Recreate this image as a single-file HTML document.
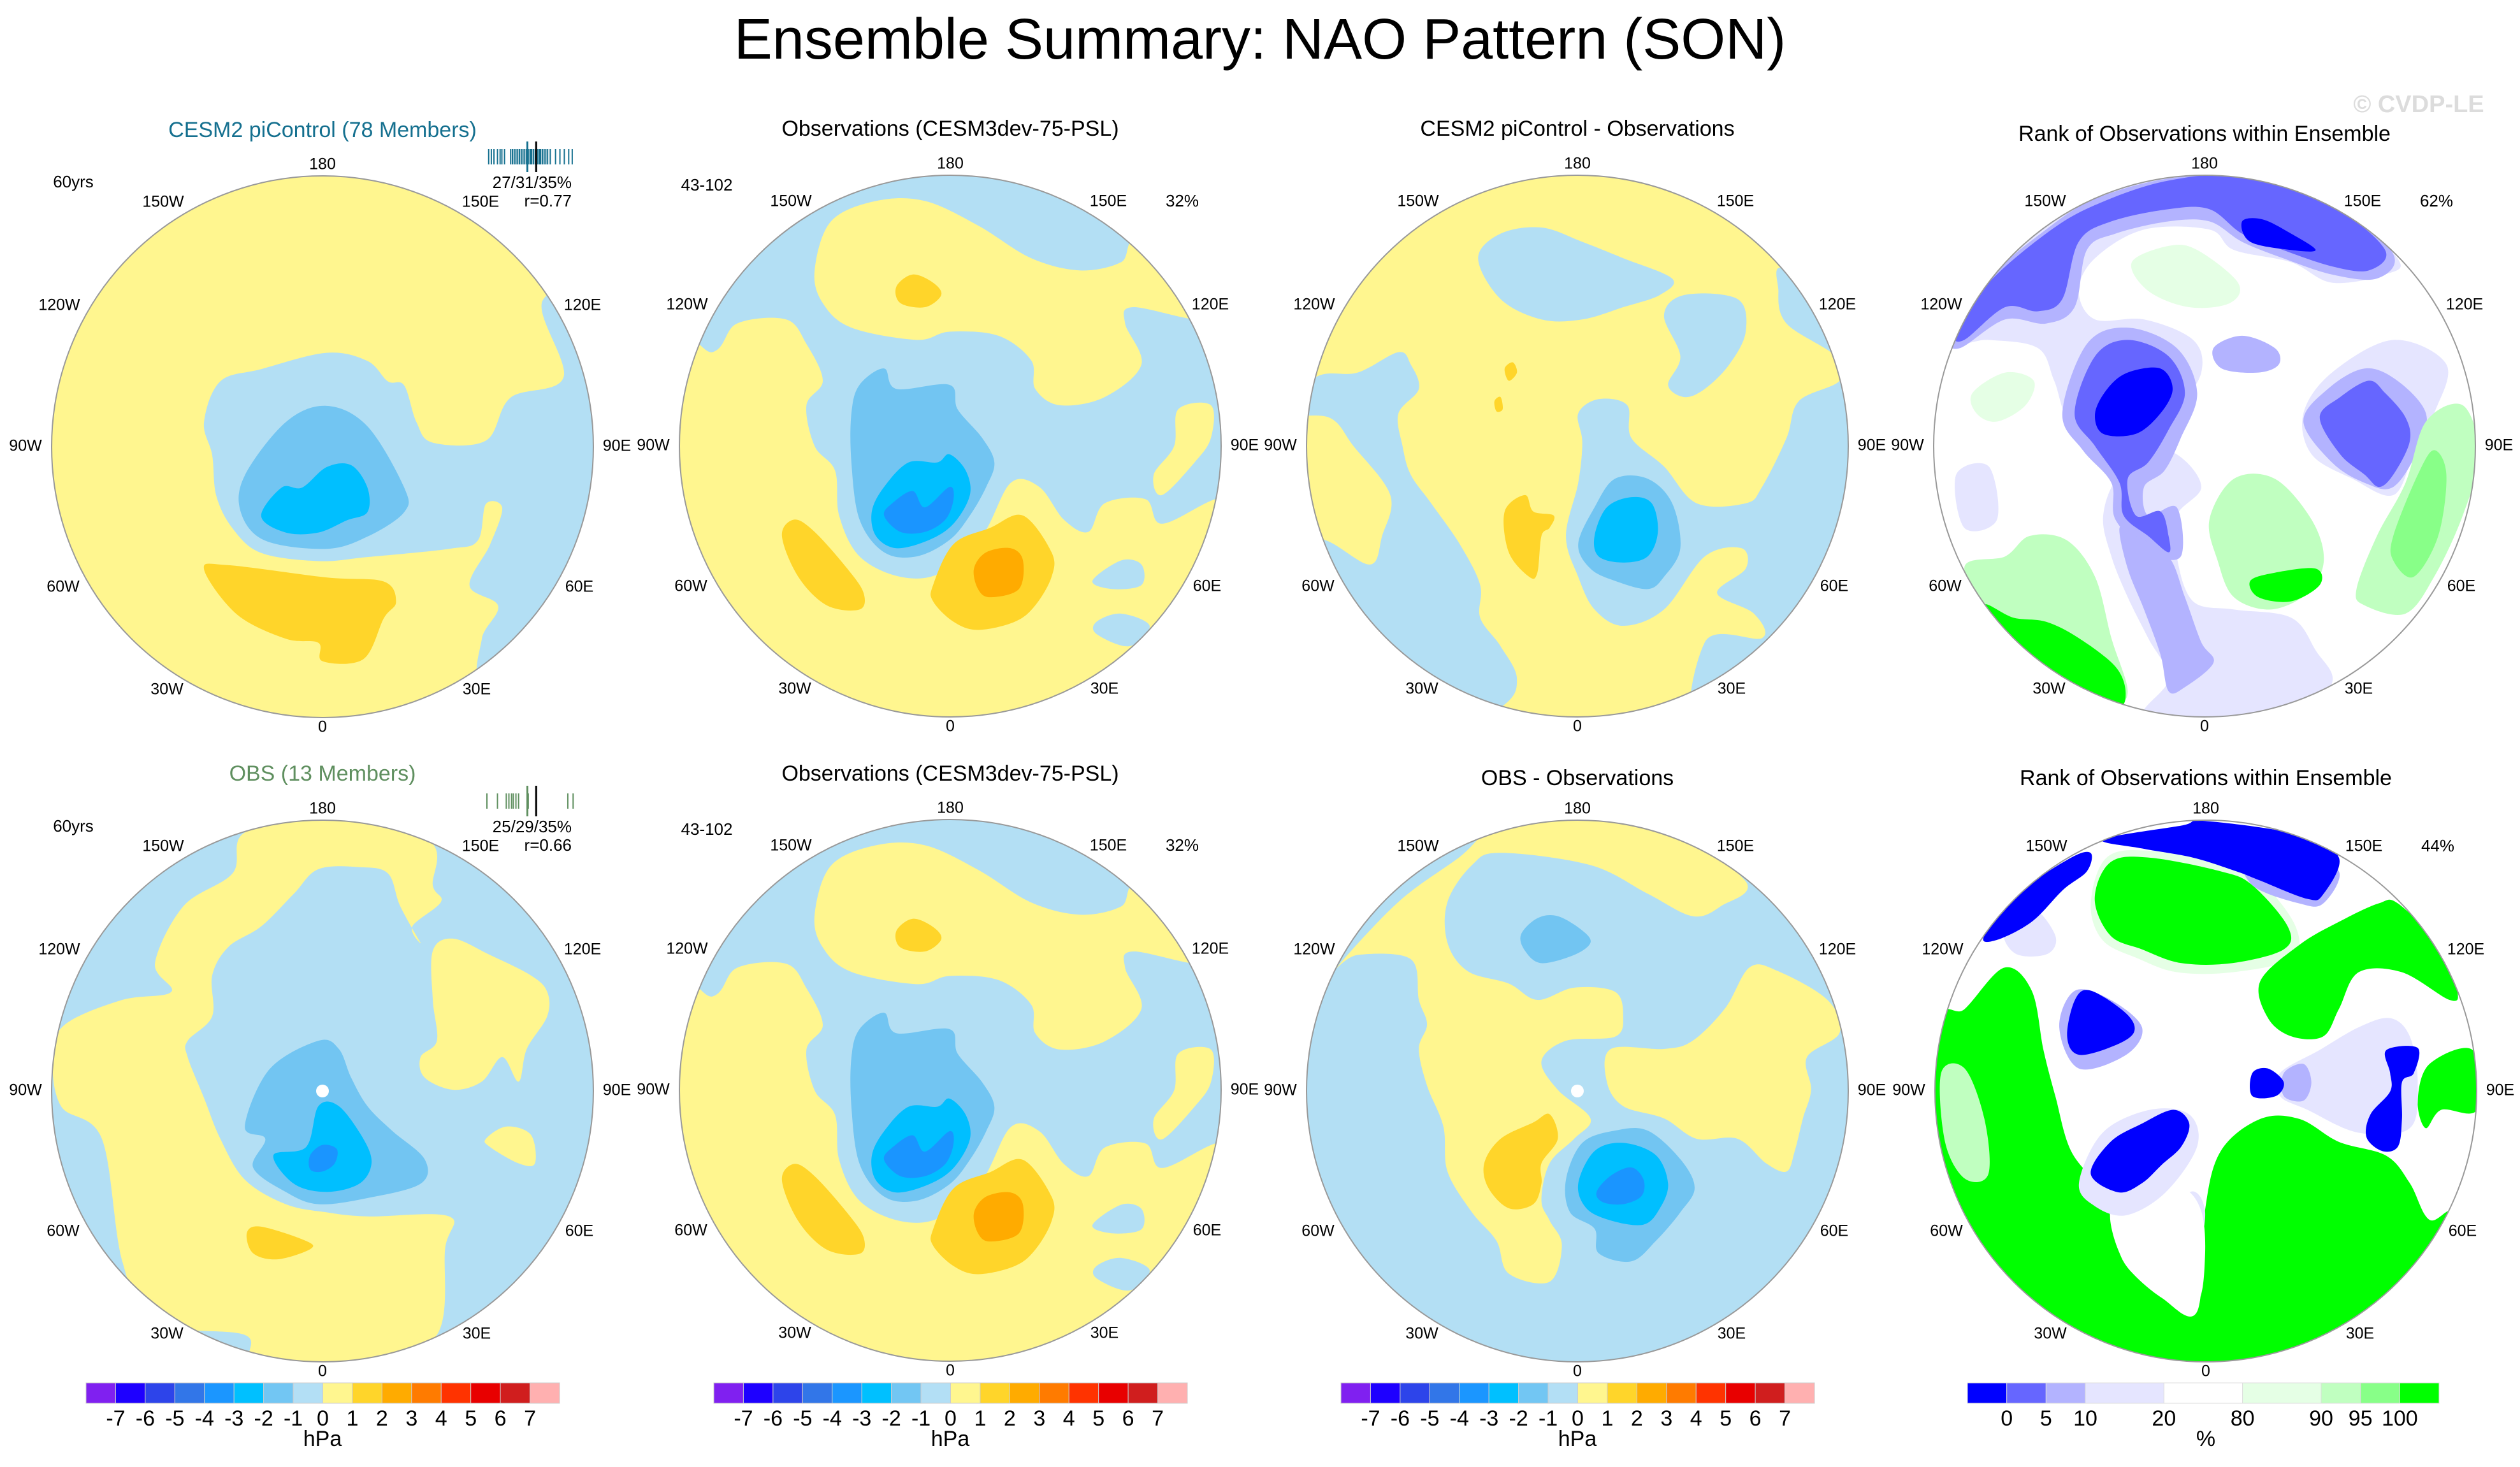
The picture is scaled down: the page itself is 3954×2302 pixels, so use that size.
<!DOCTYPE html>
<html><head><meta charset="utf-8"><title>Ensemble Summary: NAO Pattern (SON)</title>
<style>html,body{margin:0;padding:0;background:#fff;}svg{display:block;font-family:"Liberation Sans",Arial,sans-serif;}</style>
</head><body>
<svg id="fig" xmlns="http://www.w3.org/2000/svg" width="3954" height="2302" viewBox="0 0 3954 2302">
<rect width="3954" height="2302" fill="#fff"/>
<text x="1977" y="68" font-size="90" text-anchor="middle" dominant-baseline="middle" fill="#000">Ensemble Summary: NAO Pattern (SON)</text>
<text x="3795" y="166" font-size="38" font-weight="bold" text-anchor="middle" dominant-baseline="middle" fill="#dcdcdc">© CVDP-LE</text>
<g id="panels"></g>
</svg>
<script>
const pslLevels = [-7,-6,-5,-4,-3,-2,-1,0,1,2,3,4,5,6,7];
const pslColors = ['#8020f0','#1e00ff','#2d44ea','#3276e8','#1b96ff','#00c0ff','#72c6f3','#b3dff5','#fff68f','#ffd52a','#ffab00','#ff7b00','#ff3300','#e80000','#d01e1e','#ffb0b0'];
const rankLevels = [0,5,10,20,80,90,95,100];
const rankColors = ['#0000ff','#6666ff','#b3b3ff','#e5e5ff','#ffffff','#e5ffe5','#c0ffc0','#88ff88','#00ff00'];
const rankWidths = [1,1,1,2,2,2,1,1,1];
const lonLabels = ['180','150W','150E','120W','120E','90W','90E','60W','60E','30W','30E','0'];
const lonOffsets = [[0,-442],[-250,-383],[248,-383],[-413,-221],[408,-221],[-466,0],[462,0],[-407,221],[403,221],[-244,382],[242,382],[0,441]];
const cesmMembers = [0.02,0.05,0.08,0.12,0.15,0.17,0.2,0.27,0.29,0.31,0.33,0.35,0.37,0.39,0.41,0.43,0.45,0.47,0.49,0.5,0.51,0.53,0.55,0.56,0.58,0.6,0.61,0.63,0.65,0.67,0.69,0.72,0.78,0.83,0.88,0.93,0.97];
const obsMembers = [0.0,0.12,0.22,0.25,0.28,0.3,0.33,0.36,0.47,0.92,0.98];

const Y='#fff68f',O1='#ffd52a',O2='#ffab00',LB='#b3dff4',B2='#72c5f2',CY='#00bfff',B3='#1a95ff';
const R0='#0000ff',R1='#6666ff',R2='#b3b3ff',R3='#e5e5ff',R5='#e5ffe5',R6='#c0ffc0',R7='#88ff88',R8='#00ff00';

const obsShapes = [
 [Y,[[450,350],[490,230],[600,180],[720,180],[850,240],[980,320],[1100,350],[1200,330],[1240,280],[1400,400],[1400,470],[1230,440],[1210,480],[1250,580],[1160,660],[1050,680],[990,640],[980,570],[900,510],[780,500],[700,520],[540,490],[470,430]]],
 [Y,[[60,540],[200,550],[260,480],[380,470],[430,530],[470,620],[430,680],[450,780],[500,840],[510,950],[560,1050],[660,1100],[760,1090],[860,1000],[930,870],[1000,880],[1060,960],[1120,990],[1160,920],[1260,910],[1300,970],[1430,910],[1520,900],[1520,1520],[60,1520]]],
 [Y,[[1340,690],[1420,680],[1420,760],[1380,820],[1300,900],[1280,850],[1330,780]]],
 [LB,[[1130,1110],[1200,1060],[1250,1070],[1250,1120],[1180,1130]]],
 [LB,[[1140,1210],[1200,1190],[1270,1220],[1220,1270],[1140,1240]]],
 [B2,[[540,700],[560,630],[620,590],[650,640],[780,630],[800,690],[860,760],[890,820],[870,880],[830,950],[780,1010],[700,1050],[620,1040],[560,960],[540,820]]],
 [CY,[[590,940],[620,880],[680,820],[750,820],[780,800],[820,840],[830,900],[790,970],[730,1010],[650,1030],[600,1000]]],
 [B3,[[620,950],[640,920],[690,890],[720,930],[780,880],[790,910],[770,960],[720,990],[660,990]]],
 [O1,[[370,1000],[400,960],[450,990],[530,1080],[570,1140],[560,1180],[480,1170],[410,1100]]],
 [O1,[[740,1120],[790,1020],[880,980],[960,950],[1030,1040],[1030,1100],[990,1170],[940,1210],[850,1230],[790,1210],[740,1160]]],
 [O2,[[840,1080],[870,1040],[930,1030],[960,1060],[950,1130],[880,1150],[850,1130]]],
 [O1,[[650,390],[690,360],[740,380],[760,410],[720,440],[660,430]]]
];

const panels = [
 {name:'cesm2-picontrol-pattern',cx:506,cy:701,bg:Y,tf:[790,860,1.56,1.56],kind:'psl',title:'CESM2 piControl (78 Members)',tcol:'#15708f',ty:206,left:'60yrs',stats:['27/31/35%','r=0.77'],members:cesmMembers,bcol:'#15708f',shapes:[
  [LB,[[500,800],[540,700],[640,670],[800,630],[900,650],[950,700],[990,710],[1020,800],[1060,850],[1190,845],[1250,740],[1380,690],[1330,500],[1520,480],[1520,1120],[1200,1420],[1180,1330],[1220,1250],[1150,1200],[1200,1100],[1230,1010],[1190,1000],[1170,1090],[1100,1110],[900,1130],[780,1140],[640,1120],[570,1060],[530,980],[520,880]]],
  [B2,[[600,930],[700,800],[800,760],[900,810],[990,960],[990,1020],[900,1080],[800,1110],[650,1090],[590,1020]]],
  [CY,[[640,1030],[690,960],[740,960],[800,910],[860,905],[900,960],[900,1020],[850,1040],[780,1070],[700,1070]]],
  [O1,[[500,1160],[560,1150],[800,1180],[940,1190],[970,1240],[940,1280],[890,1380],[790,1385],[780,1340],[700,1330],[580,1270]]]
 ]},
 {name:'observations-pattern',cx:1491,cy:700,bg:LB,tf:[782,780,1.56,1.56],kind:'psl',title:'Observations (CESM3dev-75-PSL)',tcol:'#000',ty:204,left:'43-102',pct:'32%',shapes:obsShapes},
 {name:'cesm2-minus-obs-pattern',cx:2475,cy:700,bg:Y,tf:[788,780,1.56,1.56],kind:'psl',title:'CESM2 piControl - Observations',tcol:'#000',ty:204,shapes:[
  [LB,[[545,320],[600,260],[700,245],[800,280],[900,320],[1020,370],[990,410],[900,440],[800,470],[700,470],[600,420]]],
  [LB,[[1000,460],[1050,410],[1180,420],[1200,500],[1160,580],[1100,640],[1050,660],[1010,630],[1040,560]]],
  [LB,[[1280,400],[1300,350],[1520,550],[1520,1520],[1100,1520],[1100,1260],[1240,1250],[1220,1190],[1130,1140],[1200,1080],[1190,1030],[1100,1050],[1000,1180],[900,1220],[830,1180],[790,1100],[760,1000],[790,870],[800,770],[790,700],[840,665],[910,680],[920,760],[1000,830],[1080,920],[1200,920],[1240,880],[1300,760],[1330,670],[1430,620],[1420,560],[1300,480]]],
  [LB,[[60,700],[150,610],[250,600],[350,550],[380,580],[400,640],[350,700],[360,780],[380,850],[430,920],[500,1020],[550,1120],[550,1200],[600,1270],[640,1350],[600,1420],[400,1520],[60,1520],[60,1000],[170,1010],[280,1070],[310,1000],[330,900],[240,780],[180,710]]],
  [O1,[[610,940],[660,900],[680,940],[730,950],[720,980],[700,1000],[690,1090],[670,1100],[620,1040]]],
  [O1,[[610,590],[630,575],[640,600],[620,620]]],
  [O1,[[585,670],[600,660],[605,690],[590,695]]],
  [B2,[[790,1020],[830,930],[880,860],[960,860],[1020,920],[1040,1030],[1000,1100],[960,1130],[880,1110],[820,1080]]],
  [CY,[[830,1000],[860,930],[920,905],[970,920],[985,990],[960,1050],[900,1065],[840,1050]]]
 ]},
 {name:'rank-cesm2',cx:3459,cy:700,bg:'#fff',tf:[788,780,1.56,1.56],kind:'rank',title:'Rank of Observations within Ensemble',tcol:'#000',ty:212,pct:'62%',shapes:[
  [R3,[[150,520],[250,300],[500,160],[790,115],[1100,180],[1260,320],[1230,360],[1100,380],[1000,330],[860,300],[800,250],[640,250],[520,320],[480,400],[520,470],[640,470],[760,520],[780,600],[720,700],[680,780],[580,850],[540,950],[560,1050],[600,1150],[650,1250],[700,1350],[650,1450],[1000,1450],[1100,1360],[1060,1280],[1000,1200],[860,1180],[760,1160],[720,1050],[720,950],[780,880],[720,800],[620,780],[560,720],[460,720],[420,620],[380,540],[260,520]]],
  [R3,[[180,850],[260,830],[280,960],[200,980]]],
  [R3,[[1030,700],[1100,600],[1250,520],[1380,580],[1350,700],[1300,800],[1250,900],[1150,860],[1050,800]]],
  [R2,[[170,510],[260,370],[400,250],[520,175],[700,125],[900,120],[1120,190],[1250,310],[1210,370],[1100,360],[980,320],[880,280],[800,230],[700,230],[570,260],[500,300],[470,440],[400,480],[300,470],[190,540]]],
  [R1,[[180,500],[260,380],[400,260],[520,190],[700,130],[900,120],[1110,200],[1230,300],[1190,350],[1100,340],[980,300],[880,260],[800,200],[700,200],[560,230],[480,280],[440,420],[380,450],[300,440],[200,520]]],
  [R0,[[880,230],[930,225],[1000,260],[1060,300],[1000,300],[900,280]]],
  [R2,[[440,700],[500,530],[600,490],[720,540],[770,650],[730,760],[690,840],[640,880],[650,950],[720,930],[730,1050],[650,1040],[570,960],[560,870],[490,790]]],
  [R1,[[470,700],[520,560],[600,520],[700,560],[740,650],[700,740],[650,820],[600,860],[620,950],[680,940],[700,1000],[700,1040],[650,1000],[590,950],[580,870],[520,780]]],
  [R0,[[520,700],[550,640],[600,600],[680,590],[710,640],[680,700],[620,750],[540,750]]],
  [R2,[[1030,720],[1090,640],[1180,590],[1260,620],[1330,700],[1310,790],[1250,880],[1180,870],[1100,820]]],
  [R1,[[1070,710],[1120,660],[1190,620],[1230,650],[1280,710],[1290,770],[1250,850],[1215,880],[1180,850],[1120,800]]],
  [R2,[[580,980],[620,1000],[700,1050],[740,1150],[780,1260],[810,1310],[740,1370],[700,1380],[680,1290],[640,1180],[600,1080]]],
  [R2,[[810,540],[880,510],[960,540],[970,580],[920,600],[830,590]]],
  [R5,[[610,330],[700,290],[770,300],[870,380],[850,430],[750,440],[650,400]]],
  [R6,[[800,960],[860,860],[960,860],[1050,960],[1080,1060],[1040,1140],[950,1180],[860,1150],[820,1060]]],
  [R8,[[900,1110],[960,1090],[1060,1080],[1070,1120],[1000,1160],[920,1150]]],
  [R6,[[1210,1000],[1280,870],[1330,720],[1420,680],[1460,800],[1420,950],[1350,1100],[1280,1190],[1180,1170],[1160,1130]]],
  [R7,[[1250,1000],[1310,850],[1350,790],[1380,850],[1360,1000],[1300,1100],[1250,1060]]],
  [R6,[[200,1080],[300,1050],[360,1000],[450,1010],[520,1100],[560,1250],[600,1380],[560,1410],[450,1380],[300,1250]]],
  [R8,[[250,1170],[320,1200],[400,1210],[480,1250],[570,1320],[595,1385],[570,1420],[450,1380],[320,1280]]],
  [R5,[[220,650],[300,600],[370,620],[350,680],[280,720],[230,700]]]
 ]},
 {name:'obs-ensemble-pattern',cx:506,cy:1712,bg:LB,tf:[790,783,1.56,1.56],kind:'psl',title:'OBS (13 Members)',tcol:'#5f8f5f',ty:1216,left:'60yrs',stats:['25/29/35%','r=0.66'],members:obsMembers,bcol:'#5f8f5f',dot:true,shapes:[
  [Y,[[600,150],[800,110],[1050,170],[1060,280],[1080,320],[1010,380],[1030,420],[980,330],[950,250],[880,235],[780,240],[720,300],[640,380],[560,430],[520,500],[520,600],[460,660],[460,700],[500,800],[540,900],[600,1000],[700,1060],[800,1080],[900,1090],[1100,1090],[1090,1170],[1070,1380],[900,1450],[630,1450],[600,1380],[380,1350],[300,1200],[250,900],[150,820],[130,700],[160,620],[300,560],[420,540],[380,470],[450,330],[570,250]]],
  [Y,[[1060,440],[1110,410],[1200,450],[1300,500],[1340,540],[1340,600],[1290,680],[1270,760],[1230,700],[1180,760],[1110,780],[1040,750],[1030,700],[1070,660],[1060,560]]],
  [Y,[[1190,900],[1240,870],[1300,890],[1310,960],[1270,960],[1200,920]]],
  [B2,[[600,870],[660,730],[780,660],[830,680],[860,750],[900,820],[960,880],[1040,950],[1030,1010],[900,1045],[780,1060],[700,1030],[620,970],[650,900]]],
  [CY,[[670,940],[750,920],[780,820],[830,820],[890,900],[910,960],[880,1010],[800,1030],[720,1010]]],
  [B3,[[760,940],[790,915],[825,925],[820,960],[790,980],[760,975]]],
  [O1,[[605,1130],[640,1115],[750,1150],[760,1170],[680,1195],[620,1180]]]
 ]},
 {name:'observations-pattern-row2',cx:1491,cy:1711,bg:LB,tf:[782,780,1.56,1.56],kind:'psl',title:'Observations (CESM3dev-75-PSL)',tcol:'#000',ty:1216,left:'43-102',pct:'32%',shapes:obsShapes},
 {name:'obs-minus-obs-pattern',cx:2475,cy:1712,bg:LB,tf:[788,783,1.56,1.56],kind:'psl',title:'OBS - Observations',tcol:'#000',ty:1223,dot:true,shapes:[
  [Y,[[200,480],[350,320],[500,210],[600,130],[800,115],[1000,140],[1200,270],[1140,330],[1070,355],[960,300],[820,230],[600,200],[530,230],[470,320],[470,420],[520,490],[620,520],[690,560],[780,530],[880,540],[900,600],[880,650],[760,660],[700,710],[740,780],[820,850],[780,900],[720,960],[700,1050],[720,1100],[750,1160],[720,1250],[620,1230],[590,1150],[530,1080],[470,980],[460,870],[420,770],[400,680],[420,620],[400,560],[380,460],[250,450]]],
  [Y,[[870,680],[1000,680],[1070,660],[1150,580],[1210,480],[1280,490],[1400,560],[1430,640],[1350,700],[1360,780],[1340,850],[1320,930],[1300,980],[1250,960],[1180,900],[1080,900],[1000,850],[900,820],[860,760]]],
  [O1,[[560,960],[600,900],[680,860],[720,840],[740,900],[700,960],[700,1010],[680,1060],[620,1070],[570,1020]]],
  [B2,[[760,1000],[800,910],[880,880],[960,880],[1040,950],[1075,1020],[1040,1080],[980,1150],[920,1200],[840,1180],[830,1120],[770,1080]]],
  [CY,[[790,1010],[830,930],[900,910],[980,940],[1010,1010],[990,1070],[950,1110],[870,1100],[810,1070]]],
  [B3,[[835,1030],[870,990],[920,970],[950,1000],[945,1040],[900,1060],[850,1055]]],
  [B2,[[650,400],[690,360],[740,355],[800,390],[820,420],[780,450],[700,470],[660,440]]]
 ]},
 {name:'rank-obs',cx:3461,cy:1712,bg:'#fff',tf:[762,739,1.618,1.39],kind:'rank',title:'Rank of Observations within Ensemble',tcol:'#000',ty:1223,pct:'44%',shapes:[
  [R8,[[80,600],[150,560],[250,470],[320,520],[350,650],[380,750],[420,870],[500,960],[530,1050],[560,1120],[650,1190],[740,1220],[760,1000],[800,870],[900,800],[1000,800],[1100,850],[1220,880],[1280,940],[1330,1020],[1400,1000],[1480,1100],[1300,1360],[760,1420],[200,1340],[40,1000]]],
  [R6,[[90,700],[150,690],[200,800],[210,920],[150,930],[100,850]]],
  [R3,[[640,1060],[720,960],[760,1000],[740,1100],[700,1150]]],
  ['#ffffff',[[520,1000],[600,960],[700,950],[750,1000],[760,1100],[740,1200],[660,1180],[560,1120]]],
  [R5,[[470,330],[510,230],[620,215],[810,245],[900,280],[990,380],[980,450],[830,480],[690,480],[590,450],[500,410]]],
  [R8,[[480,320],[520,240],[620,230],[800,260],[880,290],[970,380],[960,430],[830,460],[700,460],[600,430],[520,400]]],
  [R8,[[900,500],[1000,420],[1100,370],[1200,330],[1250,330],[1350,420],[1400,520],[1380,540],[1260,480],[1150,480],[1100,560],[1060,620],[980,620],[920,580]]],
  [R8,[[1330,680],[1440,650],[1450,780],[1360,780],[1320,820],[1300,760]]],
  [R3,[[950,700],[1050,650],[1150,600],[1230,580],[1280,620],[1300,720],[1280,820],[1150,830],[1020,780],[950,750]]],
  [R2,[[960,700],[1010,680],[1030,720],[1010,760],[960,750]]],
  [R2,[[860,220],[1000,220],[1100,260],[1060,330],[1000,330],[880,290]]],
  [R0,[[500,190],[700,160],[760,150],[1000,180],[1100,230],[1060,310],[1020,320],[900,280],[840,260],[730,230],[600,210]]],
  [R3,[[250,390],[320,340],[380,400],[360,440],[280,440]]],
  [R0,[[200,400],[300,300],[420,230],[470,220],[460,260],[400,300],[320,370],[230,410]]],
  [R2,[[390,600],[430,520],[520,540],[600,600],[560,660],[440,690]]],
  [R0,[[430,540],[470,520],[560,570],[580,610],[530,640],[440,660],[410,620]]],
  [R3,[[440,940],[500,830],[620,780],[720,790],[740,860],[660,960],[560,1010],[480,990]]],
  [R0,[[470,920],[520,850],[600,810],[680,780],[720,810],[700,860],[650,900],[600,940],[540,960]]],
  [R0,[[880,700],[920,690],[960,720],[940,750],[880,750]]],
  [R0,[[1220,650],[1300,645],[1290,700],[1260,720],[1260,800],[1250,860],[1210,870],[1170,840],[1180,790],[1230,740],[1230,700]]]
 ]}
];

const SVGNS='http://www.w3.org/2000/svg';
function mk(tag,attrs,parent){const e=document.createElementNS(SVGNS,tag);for(const k in attrs)e.setAttribute(k,attrs[k]);if(parent)parent.appendChild(e);return e;}
function smoothPath(p){
  const n=p.length;let d='M'+p[0][0]+','+p[0][1];
  for(let i=0;i<n;i++){
    const p0=p[(i-1+n)%n],p1=p[i],p2=p[(i+1)%n],p3=p[(i+2)%n];
    const c1x=p1[0]+(p2[0]-p0[0])/6,c1y=p1[1]+(p2[1]-p0[1])/6;
    const c2x=p2[0]-(p3[0]-p1[0])/6,c2y=p2[1]-(p3[1]-p1[1])/6;
    d+='C'+c1x.toFixed(1)+','+c1y.toFixed(1)+' '+c2x.toFixed(1)+','+c2y.toFixed(1)+' '+p2[0]+','+p2[1];
  }
  return d+'Z';
}
const root=document.getElementById('panels');
const R=425;
panels.forEach((P,idx)=>{
  const g=mk('g',{},root);
  
  
  const cp=mk('clipPath',{id:'clip'+idx},g);
  mk('circle',{cx:P.cx,cy:P.cy,r:R},cp);
  const map=mk('g',{'clip-path':'url(#clip'+idx+')'},g);
  
  
  mk('rect',{x:P.cx-R,y:P.cy-R,width:2*R,height:2*R,fill:P.bg},map);
  const [zx,zy,sx,sy]=P.tf;
  const inner=mk('g',{transform:`translate(${P.cx},${P.cy}) scale(${1/sx},${1/sy}) translate(${-zx},${-zy})`},map);
  P.shapes.forEach((s,k)=>{
    const path=mk('path',{d:smoothPath(s[1]),fill:s[0]},inner);
    
    
  });
  if(P.dot){const dt=mk('circle',{cx:P.cx,cy:P.cy,r:10,fill:'#fff'},map);
    
    }
  const ring=mk('circle',{cx:P.cx,cy:P.cy,r:R,fill:'none',stroke:'#999','stroke-width':2},g);
  
  
  lonLabels.forEach((lab,i)=>{
    const t=mk('text',{x:P.cx+lonOffsets[i][0],y:P.cy+lonOffsets[i][1],'font-size':25,'text-anchor':'middle','dominant-baseline':'middle',fill:'#000'},g);
    t.textContent=lab;
    
    
  });
  const tt=mk('text',{x:P.cx,y:P.ty,'font-size':34,'text-anchor':'middle','dominant-baseline':'middle',fill:P.tcol},g);
  tt.textContent=P.title;
  
  
  if(P.left){const t=mk('text',{x:P.cx+(P.stats?-391:-382),y:P.cy+(P.stats?-414:-408),'font-size':26,'text-anchor':'middle','dominant-baseline':'middle'},g);
    t.textContent=P.left;
    
    }
  if(P.pct){const t=mk('text',{x:P.cx+364,y:P.cy-383,'font-size':26,'text-anchor':'middle','dominant-baseline':'middle'},g);
    t.textContent=P.pct;
    
    }
  if(P.stats){
    P.stats.forEach((s,i)=>{const t=mk('text',{x:P.cx+391,y:P.cy-413+i*29,'font-size':26,'text-anchor':'end','dominant-baseline':'middle'},g);
      t.textContent=s;
      
      });
    const x0=P.cx+258,x1=P.cx+396,yc=P.cy-455;
    P.members.forEach(v=>{const l=mk('line',{x1:x0+v*(x1-x0),x2:x0+v*(x1-x0),y1:yc-12,y2:yc+12,stroke:P.bcol,'stroke-width':2},g);
      
      });
    [0.46,0.56].forEach((v,i)=>{const l=mk('line',{x1:x0+v*(x1-x0),x2:x0+v*(x1-x0),y1:yc-24,y2:yc+24,stroke:i?'#000':P.bcol,'stroke-width':3},g);
      
      });
  }
});
// colorbars (bottom row)
function colorbar(cx,kind){
  const g=mk('g',{},root);
  
  
  const y=2170,h=32;
  if(kind==='psl'){
    const x0=cx-371,w=743/pslColors.length;
    pslColors.forEach((c,i)=>{const r=mk('rect',{x:x0+i*w,y:y,width:w,height:h,fill:c,stroke:'#ccc','stroke-width':1},g);
      
      });
    pslLevels.forEach((v,i)=>{const t=mk('text',{x:x0+(i+1)*w,y:2228,'font-size':34,'text-anchor':'middle','dominant-baseline':'middle'},g);
      t.textContent=v;
      
      });
    const u=mk('text',{x:cx,y:2260,'font-size':34,'text-anchor':'middle','dominant-baseline':'middle'},g);
    u.textContent='hPa';
    
    
  } else {
    const x0=cx-374,tot=rankWidths.reduce((a,b)=>a+b,0),unit=740/tot;
    let x=x0;const bounds=[];
    rankColors.forEach((c,i)=>{const w=rankWidths[i]*unit;const r=mk('rect',{x:x,y:y,width:w,height:h,fill:c,stroke:'#ddd','stroke-width':1},g);
      
      
      x+=w;bounds.push(x);});
    rankLevels.forEach((v,i)=>{const t=mk('text',{x:bounds[i],y:2228,'font-size':34,'text-anchor':'middle','dominant-baseline':'middle'},g);
      t.textContent=v;
      
      });
    const u=mk('text',{x:cx,y:2260,'font-size':34,'text-anchor':'middle','dominant-baseline':'middle'},g);
    u.textContent='%';
    
    
  }
}
colorbar(506,'psl');colorbar(1491,'psl');colorbar(2475,'psl');colorbar(3461,'rank');
</script>
</body></html>
